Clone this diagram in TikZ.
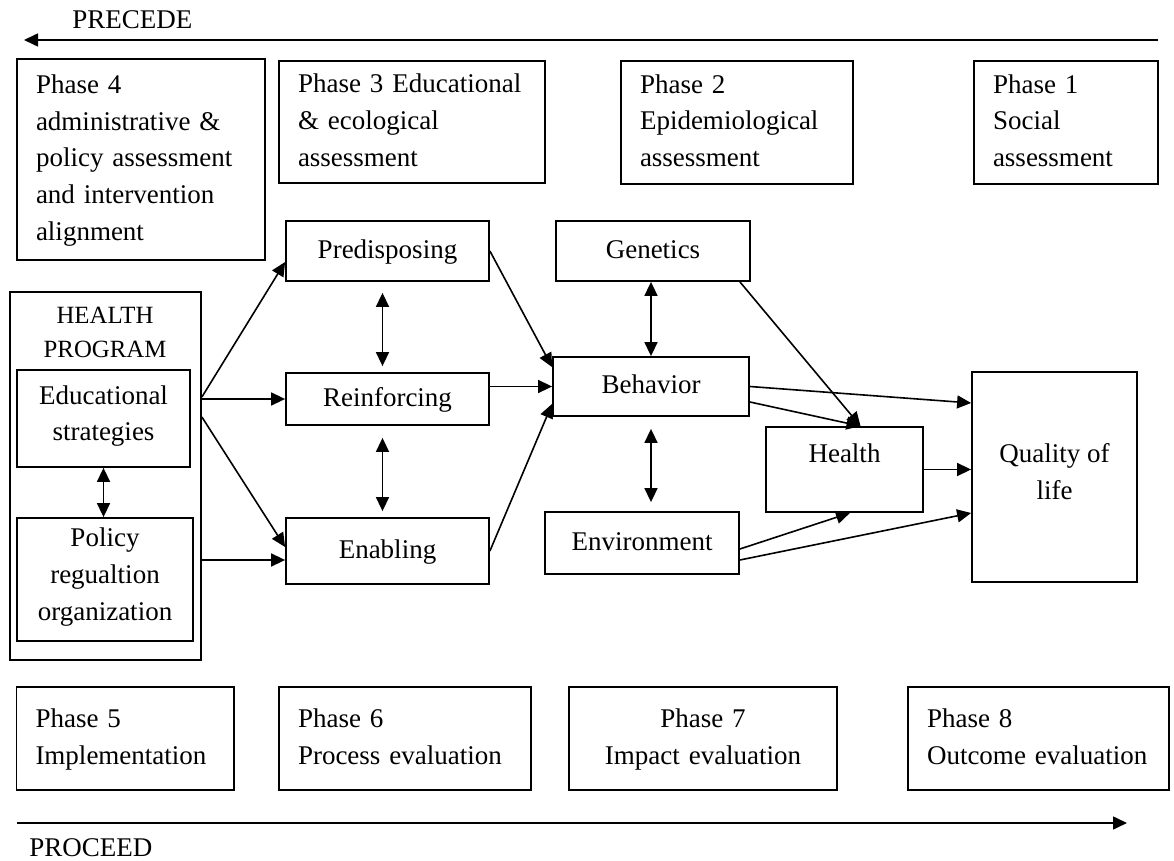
\documentclass[tikz,border=0pt]{standalone}
\usepackage{fontspec}
\setmainfont{Liberation Serif}
\usetikzlibrary{arrows.meta, calc}

\begin{document}
\begin{tikzpicture}[
    x=0.5pt, y=-0.5pt,
    every node/.style={font=\fontsize{13.5}{18.35}\selectfont},
    box/.style={draw, line width=0.9pt, align=center, inner sep=1pt,
                execute at begin node=\strut},
    phase/.style={draw, line width=0.9pt, align=left, inner xsep=9.5pt, inner ysep=1pt,
                execute at begin node=\strut},
    arr/.style={-{Triangle[length=7pt, width=6.5pt]}, line width=0.8pt},
    dbl/.style={{Triangle[length=7pt, width=6.5pt]}-{Triangle[length=7pt, width=6.5pt]}, line width=0.8pt}
  ]
    \useasboundingbox (0,0) rectangle (1174,861);

    % PRECEDE phases
    \node[anchor=west, inner sep=0pt] (precede) at (72,20) {PRECEDE};
    \coordinate (precR) at (1158,40);
    \coordinate (precL) at (24,40);
    \draw[arr] (precR) -- (precL);
    \node[phase, text width=105pt, minimum height=100.5pt] (ph4) at (141,159.5)
      {Phase 4\\administrative \&\\policy assessment\\and intervention\\alignment\strut};
    \node[phase, text width=114pt, minimum height=61pt] (ph3) at (412,122)
      {Phase 3~Educational\\\& ecological\\assessment\strut};
    \node[phase, text width=97pt, minimum height=61.5pt] (ph2) at (737,122.5)
      {Phase 2\\Epidemiological\\assessment\strut};
    \node[phase, text width=73pt, minimum height=61.5pt] (ph1) at (1066,122.5)
      {Phase 1\\Social\\assessment\strut};

    % health program
    \node[draw, line width=0.9pt, minimum width=95.7pt, minimum height=184pt] (prog) at (105.3,476) {};
    \node[align=center, font=\fontsize{12.4}{17}\selectfont] (progtitle) at (105,332) {HEALTH\\PROGRAM};
    \node[box, minimum width=86.5pt, minimum height=48.5pt] (edu) at (103.5,418.5) {Educational\\strategies\strut};
    \node[box, minimum width=88pt, minimum height=61.5pt] (pol) at (105,579.5) {Policy\\regualtion\\organization\strut};

    % factors
    \node[box, minimum width=101.5pt, minimum height=30pt] (pred) at (387.5,251) {Predisposing};
    \node[box, minimum width=101.5pt, minimum height=26pt] (reinf) at (387.5,399) {Reinforcing};
    \node[box, minimum width=101.5pt, minimum height=33pt] (enab) at (387.5,551) {Enabling};
    \node[box, minimum width=97pt, minimum height=30pt] (gen) at (653,251) {Genetics};
    \node[box, minimum width=98pt, minimum height=29.5pt] (beh) at (651,386.5) {Behavior};
    \node[box, minimum width=97pt, minimum height=31pt] (env) at (642,543) {Environment};
    \node[box, minimum width=78.5pt, minimum height=42.5pt] (health) at (844.5,469.5) {Health\\[-7pt]\strut};
    \node[box, minimum width=82.5pt, minimum height=105pt] (qol) at (1054.5,477) {Quality of\\life\strut};

    % links
    \draw[arr] ($(prog.east)+(0,-79)$) -- ($(pred.west)+(0,11)$);
    \draw[arr] (prog.east |- reinf.west) -- (reinf.west);
    \draw[arr] ($(prog.east)+(0,-59)$) -- ($(enab.west)+(0,-4)$);
    \coordinate (enabin) at ($(enab.west)+(0,9)$);
    \draw[arr] (prog.east |- enabin) -- (enabin);
    \draw[dbl] (edu.south) -- (edu.south |- pol.north);
    \draw[dbl, shorten <=5.5pt, shorten >=3pt] ($(pred.south)+(-5,0)$) -- ($(reinf.north)+(-5,0)$);
    \draw[dbl, shorten <=6pt, shorten >=3pt] ($(reinf.south)+(-5,0)$) -- ($(enab.north)+(-5,0)$);
    \draw[dbl] (beh.north |- gen.south) -- (beh.north);
    \draw[dbl, shorten <=6pt, shorten >=4.5pt] (beh.south) -- (beh.south |- env.north);
    \draw[arr] (pred.east) -- ($(beh.north west)+(0,11)$);
    \draw[arr] (reinf.east |- beh.west) -- (beh.west);
    \draw[arr] (enab.east) -- ($(beh.south west)+(0,-13)$);
    \draw[arr] ($(gen.south east)+(-11,0)$) -- ($(health.north)+(16,0)$);
    \draw[arr] ($(beh.east)+(0,15.5)$) -- ($(health.north)+(16,0)$);
    \draw[arr] (beh.east) -- ($(qol.west)+(0,-74)$);
    \draw[arr] (health.east) -- (health.east -| qol.west);
    \draw[arr] ($(env.east)+(0,6)$) -- ($(health.south)+(5.5,0)$);
    \draw[arr] ($(env.east)+(0,17)$) -- ($(qol.west)+(0,36)$);

    % PROCEED phases
    \node[phase, text width=89.75pt, minimum height=51.5pt] (ph5) at (125.25,738.5)
      {Phase 5\\Implementation\strut};
    \node[phase, text width=107pt, minimum height=51.5pt] (ph6) at (405,738.5)
      {Phase 6\\Process~evaluation\strut};
    \node[phase, align=center, text width=115pt, minimum height=51.5pt] (ph7) at (703,738.5)
      {Phase 7\\Impact evaluation\strut};
    \node[phase, text width=111.5pt, minimum height=51.5pt] (ph8) at (1038.5,738.5)
      {Phase 8\\Outcome~evaluation\strut};
    \coordinate (procL) at (16.5,823);
    \coordinate (procR) at (1127,823);
    \draw[arr] (procL) -- (procR);
    \node[anchor=west, inner sep=0pt] (proceed) at (29,848) {PROCEED};
\end{tikzpicture}
\end{document}
